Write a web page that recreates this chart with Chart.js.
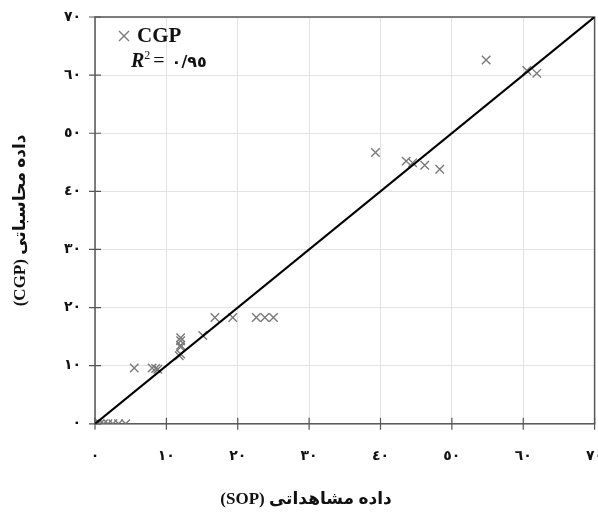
<!DOCTYPE html>
<html>
<head>
<meta charset="utf-8">
<script src="https://cdn.jsdelivr.net/npm/chart.js@4/dist/chart.umd.min.js"></script>
<style>
  html, body { margin: 0; padding: 0; background: #fff; overflow: hidden; }
  #wrap { width: 598px; height: 515px; position: relative; overflow: hidden; }
</style>
</head>
<body>
<div id="wrap"><canvas id="chart" width="602" height="515"></canvas></div>
<script>
const sopValues = [0, 0.3, 0.7, 1.2, 1.8, 2.5, 3.3, 4.3,
  5.5, 8.0, 8.5, 8.8,
  12.0, 12.0, 12.0, 12.0, 12.0, 11.8, 15.1,
  16.8, 19.3, 22.6, 23.8, 25.0,
  39.3, 43.6, 44.5, 46.2, 48.3,
  54.8, 60.5, 61.9];
const cgpValues = [0, 0, 0, 0, 0, 0, 0, 0,
  9.6, 9.6, 9.5, 9.4,
  14.8, 14.3, 13.5, 13.2, 12.0, 11.7, 15.2,
  18.3, 18.3, 18.3, 18.3, 18.3,
  46.7, 45.2, 44.9, 44.5, 43.8,
  62.6, 60.8, 60.3];
// y = x reference line
const lineX = [0, 70];
const lineY = [0, 70];
const tickValues = [0, 10, 20, 30, 40, 50, 60, 70];
const tickLabels = ['٠', '١٠', '٢٠', '٣٠', '٤٠', '٥٠', '٦٠', '٧٠'];
const seriesName = 'CGP';
const r2Text = '٠/٩٥';

const fontFam = '"Liberation Serif", "DejaVu Sans", serif';
const tickFont = { family: '"DejaVu Sans", serif', size: 14, weight: 'bold' };
const markColor = '#7a7a7a';

const points = sopValues.map((x, i) => ({ x, y: cgpValues[i] }));
const linePts = lineX.map((x, i) => ({ x, y: lineY[i] }));

function tickLabel(v) {
  const i = tickValues.indexOf(v);
  return i >= 0 ? tickLabels[i] : '';
}

// frame around plot, crossing tick marks, legend and R² note
const framePlugin = {
  id: 'frame',
  beforeDatasetsDraw(chart) {
    const { ctx, chartArea: a, scales } = chart;
    ctx.save();
    ctx.strokeStyle = '#555';
    ctx.lineWidth = 1.5;
    ctx.strokeRect(a.left, a.top, a.right - a.left, a.bottom - a.top);
    ctx.lineWidth = 1.2;
    ctx.beginPath();
    tickValues.forEach(v => {
      const px = scales.x.getPixelForValue(v);
      ctx.moveTo(px, a.bottom - 6); ctx.lineTo(px, a.bottom + 6);
      const py = scales.y.getPixelForValue(v);
      ctx.moveTo(a.left - 6, py); ctx.lineTo(a.left + 6, py);
    });
    ctx.stroke();
    ctx.restore();
  },
  afterDraw(chart) {
    const { ctx, chartArea: a } = chart;
    ctx.save();
    // legend entry
    const lx = a.left + 29, ly = a.top + 19;
    ctx.strokeStyle = markColor;
    ctx.lineWidth = 1.4;
    ctx.beginPath();
    ctx.moveTo(lx - 5, ly - 5); ctx.lineTo(lx + 5, ly + 5);
    ctx.moveTo(lx - 5, ly + 5); ctx.lineTo(lx + 5, ly - 5);
    ctx.stroke();
    ctx.fillStyle = '#111';
    ctx.textBaseline = 'middle';
    ctx.font = 'bold 21px ' + fontFam;
    ctx.fillText(seriesName, a.left + 42, ly + 1);

    ctx.textBaseline = 'alphabetic';
    let x = a.left + 36, y = a.top + 50;
    ctx.font = 'italic bold 20px ' + fontFam;
    ctx.fillText('R', x, y);
    x += ctx.measureText('R').width;
    ctx.font = '12px ' + fontFam;
    ctx.fillText('2', x, y - 8);
    x += ctx.measureText('2').width + 3;
    ctx.font = '20px ' + fontFam;
    ctx.fillText('=', x, y);
    x += ctx.measureText('= ').width + 2;
    ctx.font = 'bold 16px "DejaVu Sans", serif';
    ctx.fillText(r2Text, x, y);
    ctx.restore();
  }
};

new Chart(document.getElementById('chart'), {
  type: 'scatter',
  data: {
    datasets: [
      {
        label: seriesName,
        data: points,
        pointStyle: 'crossRot',
        pointRadius: 6,
        pointHoverRadius: 6,
        borderColor: markColor,
        backgroundColor: markColor,
        pointBorderWidth: 1.4,
        showLine: false,
        order: 2
      },
      {
        label: 'line',
        data: linePts,
        showLine: true,
        borderColor: '#000',
        borderWidth: 2.2,
        pointRadius: 0,
        order: 1
      }
    ]
  },
  options: {
    responsive: false,
    animation: false,
    layout: { padding: { left: 10, right: 0, top: 17, bottom: 5 } },
    scales: {
      x: {
        type: 'linear', min: 0, max: 70,
        afterBuildTicks: s => { s.ticks = tickValues.map(v => ({ value: v })); },
        afterFit: s => { s.paddingRight = 0; s.paddingLeft = 0; },
        border: { display: false },
        grid: { color: '#e3e3e3', lineWidth: 1, drawTicks: false },
        ticks: { callback: tickLabel, color: '#111', font: tickFont, padding: 24, maxRotation: 0 }
      },
      y: {
        type: 'linear', min: 0, max: 70,
        afterBuildTicks: s => { s.ticks = tickValues.map(v => ({ value: v })); },
        afterFit: s => { s.width = 85; s.paddingTop = 0; s.paddingBottom = 0; },
        border: { display: false },
        grid: { color: '#e3e3e3', lineWidth: 1, drawTicks: false },
        title: {
          display: true,
          text: '(CGP) داده محاسباتی',
          color: '#111',
          font: { family: fontFam, size: 17, weight: 'bold' },
          padding: { top: 0, bottom: 0 }
        },
        ticks: { callback: tickLabel, color: '#111', font: tickFont, padding: 14 }
      }
    },
    plugins: {
      legend: { display: false },
      title: {
        display: true,
        position: 'bottom',
        text: '(SOP) داده مشاهداتی',
        color: '#111',
        font: { family: fontFam, size: 17, weight: 'bold' },
        padding: { top: 1, bottom: 0 }
      },
      tooltip: { enabled: false }
    }
  },
  plugins: [framePlugin]
});
</script>
</body>
</html>
